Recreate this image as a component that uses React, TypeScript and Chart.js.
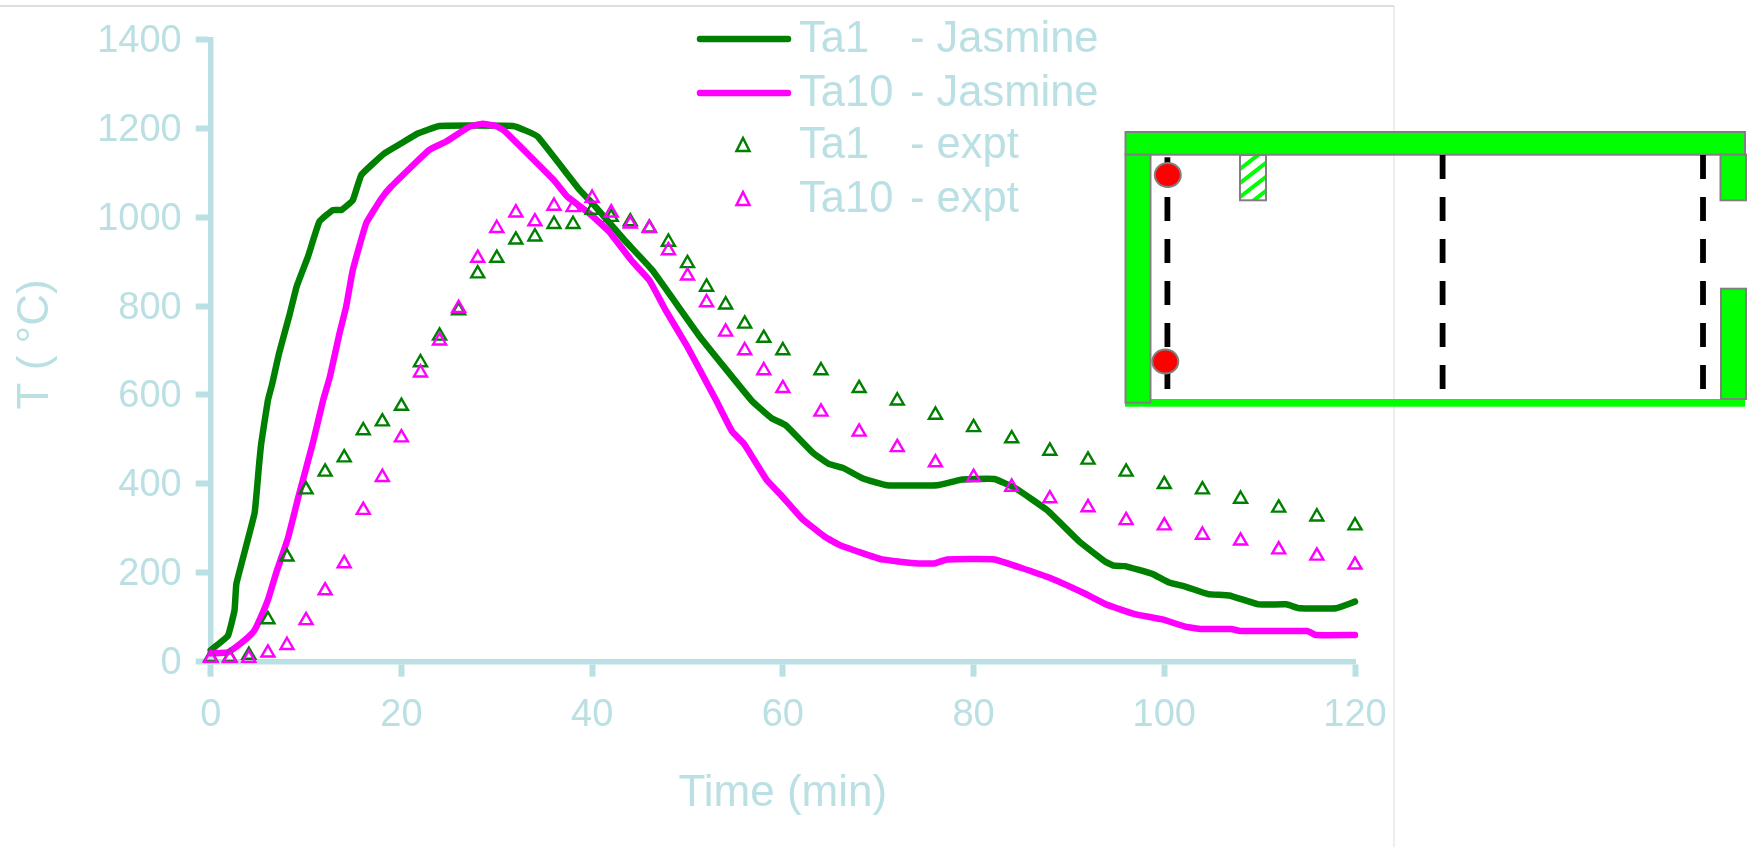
import React, { useEffect, useRef } from "react";
import { Chart, registerables } from "chart.js";

Chart.register(...registerables);

const AXIS = "#BBE0E3";
const GREEN = "#008000";
const MAGENTA = "#FF00FF";
const WALL = "#00FF00";
const EDGE = "#808080";
const FONT = '"Liberation Sans", Arial, sans-serif';

const ta1JasmineTime = [0, 1.8, 2.5, 2.7, 4.6, 5.05, 5.3, 6, 6.46, 7.16, 8.3, 9, 10.2, 11.4, 12.8, 13.7, 14.9, 15.8, 18.2, 20, 21.7, 24, 31.7, 33.1, 34.3, 38.7, 40.2, 43.4, 46.3, 51.3, 56.7, 58.8, 60.3, 63.2, 64.8, 66.3, 68.4, 70.9, 76.2, 78.6, 80, 82.2, 84.4, 87.7, 91.1, 93.8, 94.7, 95.9, 98.8, 100.5, 102.2, 104.6, 106.8, 109.9, 112.8, 114.2, 118, 120];
const ta1JasmineTemp = [26, 58, 116, 176, 334, 438, 491, 588, 626, 693, 783, 843, 911, 990, 1016, 1016, 1038, 1095, 1143, 1166, 1188, 1205, 1205, 1194, 1181, 1061, 1027, 948, 881, 731, 588, 548, 532, 469, 445, 436, 412, 397, 397, 409, 411, 411, 390, 341, 270, 225, 216, 215, 197, 178, 169, 152, 149, 129, 129, 120, 120, 135];

const ta10JasmineTime = [0, 1.8, 3.2, 4.35, 4.8, 6, 6.9, 8.1, 9.2, 10.7, 11.8, 12.5, 13.5, 14.2, 14.9, 16.3, 17.9, 18.9, 22.9, 24.7, 27.1, 28.5, 29.9, 30.8, 36, 37.4, 39.9, 41.8, 44.1, 46, 47.7, 50, 51.3, 53, 54.7, 55.9, 58.3, 59.8, 62, 64.4, 66, 70.4, 74.2, 75.9, 77.2, 82.2, 87.7, 91.6, 94, 96.9, 99.8, 102.2, 103.9, 107, 108, 115, 115.9, 120];
const ta10JasmineTemp = [19, 21, 42, 64, 79, 139, 202, 278, 371, 491, 589, 641, 738, 798, 881, 986, 1042, 1068, 1151, 1170, 1203, 1210, 1205, 1194, 1083, 1046, 1005, 967, 903, 858, 791, 708, 656, 588, 517, 491, 409, 375, 322, 281, 262, 230, 221, 221, 230, 230, 191, 154, 128, 107, 95, 79, 73.5, 73.5, 69, 69, 60, 60];

const exptTime = [0, 2, 4, 6, 8, 10, 12, 14, 16, 18, 20, 22, 24, 26, 28, 30, 32, 34, 36, 38, 40, 42, 44, 46, 48, 50, 52, 54, 56, 58, 60, 64, 68, 72, 76, 80, 84, 88, 92, 96, 100, 104, 108, 112, 116, 120];
const ta1ExptTemp = [10, 10, 15, 95, 236, 387, 427, 459, 520, 540, 575, 673, 733, 790, 873, 908, 949, 956, 984, 984, 1016, 1000, 990, 976, 944, 896, 843, 803, 760, 728, 700, 655, 615, 587, 555, 527, 502, 474, 454, 427, 399, 387, 366, 346, 326, 306];
const ta10ExptTemp = [8, 8, 8, 20, 37, 93, 160, 221, 341, 415, 504, 650, 722, 795, 908, 975, 1010, 990, 1025, 1022, 1043, 1010, 985, 975, 925, 868, 808, 742, 700, 655, 615, 562, 517, 482, 448, 415, 393, 367, 347, 318, 306, 285, 272, 252, 238, 218];

const zip = (xs: number[], ys: number[]) => xs.map((x, i) => ({ x, y: ys[i] }));

const legendTextY = [40, 94, 146, 200];
const legendMarkY = [39, 93, 145, 199];

const insideLegend = {
  id: "insideLegend",
  afterDraw(chart: any) {
    const c = chart.ctx;
    c.save();
    chart.data.datasets.forEach((ds: any, i: number) => {
      const markY = legendMarkY[i];
      if (ds.showLine) {
        c.strokeStyle = ds.borderColor;
        c.lineWidth = 6.5;
        c.lineCap = "round";
        c.beginPath();
        c.moveTo(700, markY);
        c.lineTo(788, markY);
        c.stroke();
      } else {
        c.strokeStyle = ds.pointBorderColor;
        c.lineWidth = 2.5;
        c.beginPath();
        c.moveTo(743, markY - 7);
        c.lineTo(749.5, markY + 6);
        c.lineTo(736.5, markY + 6);
        c.closePath();
        c.stroke();
      }
      const [a, b] = ds.label.split(" - ");
      c.fillStyle = AXIS;
      c.font = `43.5px ${FONT}`;
      c.textAlign = "left";
      c.textBaseline = "middle";
      c.fillText(a, 799, legendTextY[i]);
      c.fillText("- " + b, 910, legendTextY[i]);
    });
    c.restore();
  },
};

const dashRows = [0, 1, 2, 3, 4, 5];

export default function App() {
  const ref = useRef<HTMLCanvasElement>(null);
  useEffect(() => {
    const chart = new Chart(ref.current as HTMLCanvasElement, {
      type: "scatter",
      data: {
        datasets: [
          { label: "Ta1 - Jasmine", data: zip(ta1JasmineTime, ta1JasmineTemp), showLine: true, borderColor: GREEN, borderWidth: 6.5, borderCapStyle: "round", borderJoinStyle: "round", tension: 0.1, pointRadius: 0, order: 4 },
          { label: "Ta10 - Jasmine", data: zip(ta10JasmineTime, ta10JasmineTemp), showLine: true, borderColor: MAGENTA, borderWidth: 6.5, borderCapStyle: "round", borderJoinStyle: "round", tension: 0.1, pointRadius: 0, order: 3 },
          { label: "Ta1 - expt", data: zip(exptTime, ta1ExptTemp), showLine: false, pointStyle: "triangle", pointRadius: 7.5, pointBorderWidth: 2.4, pointBorderColor: GREEN, pointBackgroundColor: "transparent", order: 2 },
          { label: "Ta10 - expt", data: zip(exptTime, ta10ExptTemp), showLine: false, pointStyle: "triangle", pointRadius: 7.5, pointBorderWidth: 2.4, pointBorderColor: MAGENTA, pointBackgroundColor: "transparent", order: 1 },
        ],
      },
      options: {
        animation: false,
        responsive: false,
        clip: false,
        layout: { padding: { left: 0, right: 397, top: 39.3, bottom: 0 } },
        plugins: { legend: { display: false }, tooltip: { enabled: false } },
        scales: {
          x: {
            type: "linear",
            min: 0,
            max: 120,
            afterFit: (s: any) => { s.height = 185.3; },
            border: { color: AXIS, width: 5.5 },
            grid: { drawOnChartArea: false, color: AXIS, tickColor: AXIS, tickWidth: 6, tickLength: 15 },
            ticks: { stepSize: 20, color: AXIS, font: { family: FONT, size: 38 }, padding: 16, maxRotation: 0, callback: (v: any) => String(v) },
            title: { display: true, text: "Time (min)", color: AXIS, font: { family: FONT, size: 44 }, padding: { top: 0, bottom: 27 } },
          },
          y: {
            type: "linear",
            min: 0,
            max: 1400,
            afterFit: (s: any) => { s.width = 210.7; },
            border: { color: AXIS, width: 5.5 },
            grid: { drawOnChartArea: false, color: AXIS, tickColor: AXIS, tickWidth: 6, tickLength: 15 },
            ticks: { stepSize: 200, color: AXIS, font: { family: FONT, size: 38 }, padding: 14, labelOffset: 2, callback: (v: any) => String(v) },
            title: { display: true, text: " T ( °C)", color: AXIS, font: { family: FONT, size: 44 }, padding: { top: 9, bottom: 0 } },
          },
        },
      },
      plugins: [insideLegend],
    } as any);
    return () => chart.destroy();
  }, []);

  const dashes = (x: number) =>
    dashRows.map((k) => <rect key={x + "-" + k} x={x - 2.9} y={155 + k * 42} width={5.8} height={24} fill="#000" />);

  return (
    <div style={{ position: "fixed", left: 0, top: 0, width: 1752, height: 847, background: "#fff", overflow: "hidden" }}>
      <canvas ref={ref} width={1752} height={847} style={{ position: "absolute", left: 0, top: 0 }} />
      <svg width={1752} height={847} style={{ position: "absolute", left: 0, top: 0 }}>
        <defs>
          <pattern id="hatch" width="18" height="14" patternUnits="userSpaceOnUse" patternTransform="translate(1240 155)">
            <rect width="18" height="14" fill="#fff" />
            <path d="M-4.5 17.5 L22.5 -3.5 M-4.5 3.5 L4.5 -3.5 M13.5 17.5 L22.5 10.5" stroke={WALL} strokeWidth="4" />
          </pattern>
        </defs>
        <line x1={0} y1={6} x2={1394} y2={6} stroke="#BEBEBE" strokeWidth={1.2} />
        <line x1={1394} y1={6} x2={1394} y2={847} stroke="#DDDDDD" strokeWidth={1} />
        <rect x={1125} y={399} width={620} height={7.7} fill={WALL} />
        <rect x={1125.5} y={132} width={619.5} height={22.7} fill={WALL} stroke={EDGE} strokeWidth={2} />
        <rect x={1125.5} y={154.7} width={25} height={248} fill={WALL} stroke={EDGE} strokeWidth={2} />
        <rect x={1720.5} y={154.7} width={25.5} height={45.6} fill={WALL} stroke={EDGE} strokeWidth={2} />
        <rect x={1721} y={288.7} width={25} height={110.3} fill={WALL} stroke={EDGE} strokeWidth={2} />
        <rect x={1240} y={155} width={26} height={45.3} fill="url(#hatch)" stroke={EDGE} strokeWidth={2} />
        {dashes(1167.4).slice(1)}
        <rect x={1164.5} y={157.3} width={5.8} height={12} fill="#000" />
        {dashes(1442.6)}
        {dashes(1703)}
        <ellipse cx={1167.8} cy={175} rx={13} ry={12} fill="#FF0000" stroke={EDGE} strokeWidth={2} />
        <ellipse cx={1165.3} cy={361.5} rx={13} ry={12} fill="#FF0000" stroke={EDGE} strokeWidth={2} />
      </svg>
    </div>
  );
}
